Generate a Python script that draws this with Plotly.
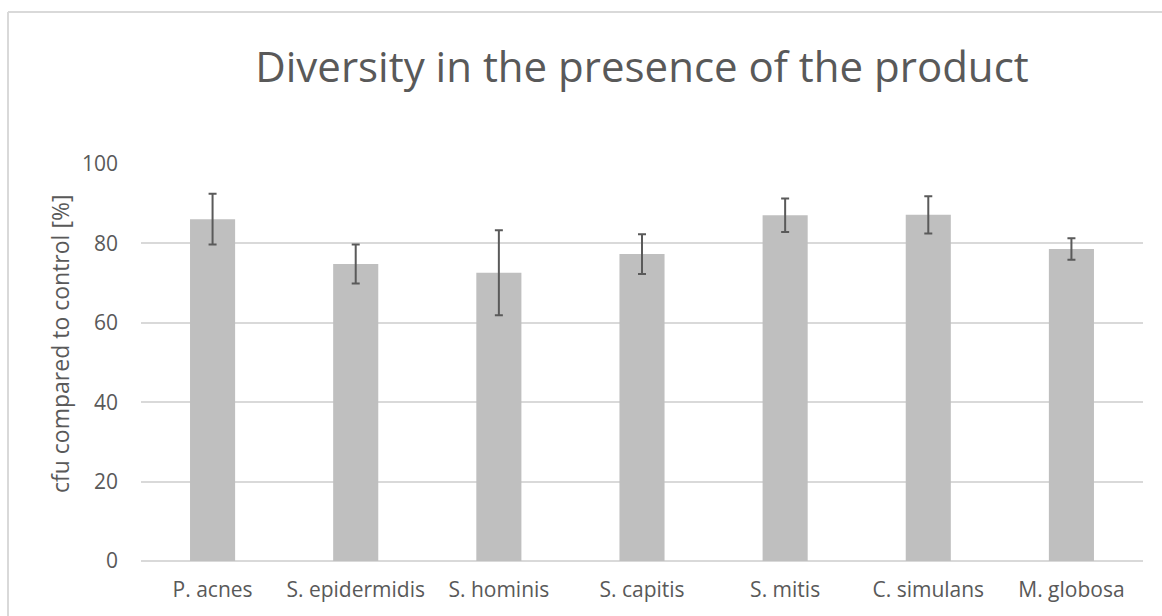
import plotly.graph_objects as go

categories = ["P. acnes", "S. epidermidis", "S. hominis", "S. capitis", "S. mitis", "C. simulans", "M. globosa"]
values = [86.1, 74.8, 72.6, 77.3, 87.1, 87.2, 78.6]
errors = [6.4, 4.9, 10.7, 5.0, 4.2, 4.7, 2.7]
y_ticks = [0, 20, 40, 60, 80, 100]

TEXT = "#595959"
GRID = "#D9D9D9"
FONT = "Open Sans"

fig = go.Figure()
fig.add_trace(go.Bar(
    x=categories, y=values,
    marker=dict(color="#BFBFBF", line=dict(width=0)),
    error_y=dict(type="data", array=errors, visible=True, color="#5A5A5A", thickness=2, width=4),
    hoverinfo="skip",
))

W, H = 1162, 616
L, R, T, B = 141, 19, 164, 55
pw = W - L - R
ph = H - T - B

bx0 = (8 - L) / pw          # left edge of chart border
by1 = (H - B - 12) / ph     # top edge of chart border

fig.update_layout(
    width=W, height=H,
    margin=dict(l=L, r=R, t=T, b=B),
    paper_bgcolor="white", plot_bgcolor="white",
    bargap=0.685,
    showlegend=False,
    font=dict(family=FONT, color=TEXT, size=21),
    title=dict(text="Diversity in the presence of the product",
               font=dict(family=FONT, size=42, color=TEXT),
               x=0.5, xref="paper", xanchor="center",
               y=1 - 67 / H, yref="container", yanchor="middle"),
    xaxis=dict(showgrid=False, showline=False, ticks="", ticklabelstandoff=14,
               tickfont=dict(size=21, color=TEXT)),
    yaxis=dict(range=[0, 100], tickvals=y_ticks, showgrid=True, gridcolor=GRID, gridwidth=2,
               zeroline=True, zerolinecolor=GRID, zerolinewidth=2, showline=False, ticks="",
               ticklabelstandoff=22, tickfont=dict(size=21, color=TEXT)),
    annotations=[dict(text="cfu compared to control [%]", xref="paper", yref="paper",
                      x=(60 - L) / pw, y=(H - B - 344) / ph, textangle=-90,
                      xanchor="center", yanchor="middle", showarrow=False,
                      font=dict(family=FONT, size=23, color=TEXT))],
    shapes=[
        dict(type="line", xref="paper", yref="paper", x0=bx0, x1=1.1, y0=by1, y1=by1,
             line=dict(color=GRID, width=2), layer="below"),
        dict(type="line", xref="paper", yref="paper", x0=bx0, x1=bx0, y0=by1, y1=-0.3,
             line=dict(color=GRID, width=2), layer="below"),
    ],
)

fig.write_html(
    "out.html",
    config={"displayModeBar": False},
    post_script="document.body.style.margin='0';document.body.style.overflow='hidden';",
)
